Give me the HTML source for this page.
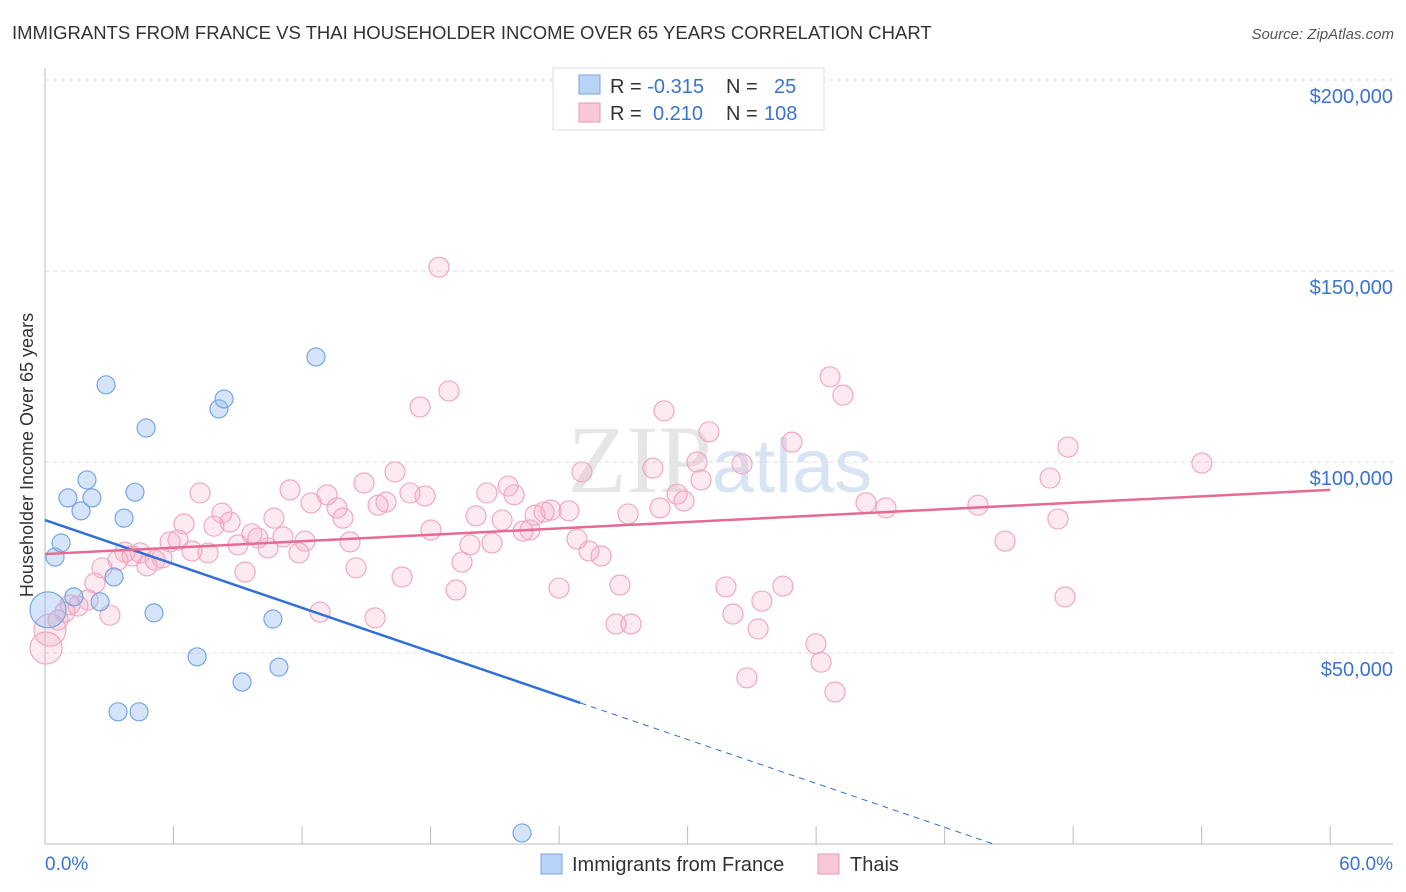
<!DOCTYPE html>
<html><head><meta charset="utf-8"><style>
body{margin:0;background:#fff;font-family:"Liberation Sans",sans-serif;}
svg{display:block}
</style></head><body>
<svg width="1406" height="892" id="c">
<text x="12" y="39" font-size="18.5" fill="#333">IMMIGRANTS FROM FRANCE VS THAI HOUSEHOLDER INCOME OVER 65 YEARS CORRELATION CHART</text>
<text x="1394" y="39" font-size="15" fill="#555" font-style="italic" text-anchor="end">Source: ZipAtlas.com</text>
<text x="720" y="492" font-size="96" fill="#e6e6e6" text-anchor="middle" font-family="Liberation Serif,serif">ZIP<tspan fill="#d8e4f3" font-family="Liberation Sans,sans-serif" font-size="76">atlas</tspan></text>
<g id="grid"></g>
<line x1="45" y1="68" x2="45" y2="844" stroke="#bbb"/>
<line x1="45" y1="844" x2="1393" y2="844" stroke="#bbb"/>
<text x="33" y="455" font-size="18" fill="#333" text-anchor="middle" transform="rotate(-90 33 455)">Householder Income Over 65 years</text>
<text x="45" y="870" font-size="19" fill="#3b73d0">0.0%</text>
<text x="1393" y="870" font-size="19" fill="#3b73d0" text-anchor="end">60.0%</text>
<g id="marks"></g>
<g>
<rect x="553" y="68" width="271" height="62" fill="#fff" stroke="#ddd"/>
<rect x="579" y="75" width="21" height="19" fill="#b8d3f5" stroke="#7aa6e0"/>
<rect x="579" y="103" width="21" height="19" fill="#f8c8d6" stroke="#e89ab3"/>
<text x="610" y="93" font-size="20" fill="#333">R = <tspan fill="#3b73d0">-0.315</tspan><tspan x="726">N = </tspan><tspan x="774" fill="#3b73d0">25</tspan></text>
<text x="610" y="120" font-size="20" fill="#333">R = <tspan x="653" fill="#3b73d0">0.210</tspan><tspan x="726">N = </tspan><tspan x="764" fill="#3b73d0">108</tspan></text>
</g>
<g>
<rect x="541" y="854" width="21" height="20" fill="#b8d3f5" stroke="#7aa6e0"/>
<text x="572" y="871" font-size="20" fill="#333">Immigrants from France</text>
<rect x="818" y="854" width="21" height="20" fill="#f8c8d6" stroke="#e89ab3"/>
<text x="850" y="871" font-size="20" fill="#333">Thais</text>
</g>
</svg>
<script>
const yTicks=[50,100,150,200];
const yTickLabels=["$50,000","$100,000","$150,000","$200,000"];
const xTicks=[0,6,12,18,24,30,36,42,48,54,60];
const blueX=[0.14,0.47,0.75,1.07,1.68,1.96,2.19,1.35,2.57,3.22,2.85,3.69,4.2,4.72,5.09,3.41,4.39,7.1,8.12,8.36,9.2,10.64,10.92,12.65,22.27];
const blueY=[61.3,75.1,78.8,90.6,87.2,95.3,90.6,64.7,63.4,69.9,120.2,85.3,92.1,108.9,60.5,34.6,34.6,49,113.9,116.5,42.4,58.9,46.3,127.5,2.9];
const pinkPx=[[46,648],[50,630],[58,620],[65,612],[70,605],[78,606],[88,600],[95,583],[102,568],[110,615],[118,560],[125,552],[132,556],[140,553],[147,566],[155,560],[162,558],[170,542],[178,540],[184,524],[192,551],[200,493],[208,553],[214,526],[222,513],[230,522],[238,545],[245,572],[252,534],[258,538],[268,548],[274,518],[283,537],[290,490],[299,553],[305,541],[311,503],[320,612],[327,495],[337,508],[343,518],[350,542],[356,568],[364,483],[378,505],[386,502],[395,472],[375,618],[402,577],[410,493],[420,407],[425,496],[431,530],[439,267],[449,391],[456,590],[462,562],[470,545],[476,516],[487,493],[492,543],[502,520],[508,486],[514,495],[523,531],[530,530],[535,515],[544,512],[551,510],[559,588],[569,511],[577,539],[582,472],[589,551],[601,556],[616,624],[620,585],[631,624],[628,514],[653,468],[660,508],[664,411],[677,494],[684,501],[697,462],[701,480],[709,432],[726,587],[733,614],[742,464],[758,629],[762,601],[783,586],[792,442],[816,644],[821,662],[830,377],[835,692],[843,395],[747,678],[866,503],[886,508],[978,505],[1005,541],[1050,478],[1058,519],[1065,597],[1068,447],[1202,463]];
const pinkX=pinkPx.map(p=>+((p[0]-45)/21.42).toFixed(2));
const pinkY=pinkPx.map(p=>+((844-p[1])/3.82).toFixed(1));
const blueTrend=[84.8,-1.915];
const pinkTrend=[75.9,0.28];
const NS="http://www.w3.org/2000/svg";
const X=v=>45+v*21.42, Y=v=>844-v*3.82;
function mk(t,a,p){const e=document.createElementNS(NS,t);for(const k in a)e.setAttribute(k,a[k]);p.appendChild(e);return e;}
const grid=document.getElementById('grid'), marks=document.getElementById('marks');
yTicks.forEach((t,i)=>{
 const l=mk('line',{x1:45,x2:1393,y1:Y(t),y2:Y(t),stroke:'#ddd','stroke-dasharray':'4 4'},grid);
 
 
 const tx=mk('text',{x:1393,y:Y(t)+23,'font-size':20,fill:'#3b73d0','text-anchor':'end'},grid);
 tx.textContent=yTickLabels[i];
 
 
});
xTicks.forEach(t=>{
 const l=mk('line',{x1:X(t),x2:X(t),y1:826,y2:844,stroke:'#bbb'},grid);
 
 
});
pinkX.forEach((x,i)=>{
 const r=i<2?16:10;
 const c=mk('circle',{cx:X(x),cy:Y(pinkY[i]),r:r,fill:'rgba(244,160,188,0.22)',stroke:'#f0a8c0','stroke-width':1.2},marks);
 
 
});
blueX.forEach((x,i)=>{
 const r=i==0?18:9;
 const c=mk('circle',{cx:X(x),cy:Y(blueY[i]),r:r,fill:'rgba(150,188,240,0.4)',stroke:'#76a6e2','stroke-width':1.2},marks);
 
 
});
const bs=mk('line',{x1:X(0),y1:Y(blueTrend[0]),x2:X(25),y2:Y(blueTrend[0]+blueTrend[1]*25),stroke:'#2f6fd6','stroke-width':2.5},marks);


const z=-blueTrend[0]/blueTrend[1];
const bd=mk('line',{x1:X(25),y1:Y(blueTrend[0]+blueTrend[1]*25),x2:X(z),y2:Y(0),stroke:'#2f6fd6','stroke-width':1,'stroke-dasharray':'6 5'},marks);


const pl=mk('line',{x1:X(0),y1:Y(pinkTrend[0]),x2:X(60),y2:Y(pinkTrend[0]+pinkTrend[1]*60),stroke:'#e56a94','stroke-width':2.5},marks);


</script>
</body></html>
